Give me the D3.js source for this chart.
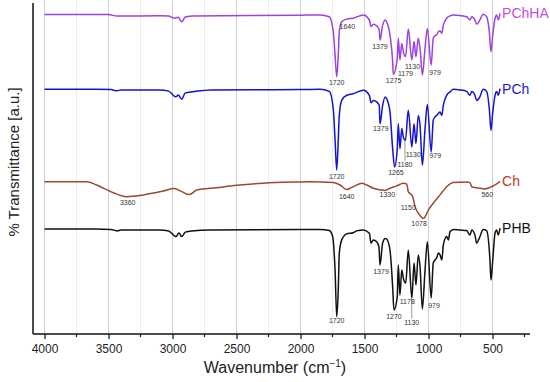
<!DOCTYPE html>
<html>
<head>
<meta charset="utf-8">
<script src="https://cdn.jsdelivr.net/npm/d3@7"></script>
<style>
  body { margin: 0; background: #fff; }
  svg { display: block; font-family: "Liberation Sans", Arial, sans-serif; }
</style>
</head>
<body>
<script>
const width = 550, height = 382;

// x axis ticks (cm-1)
const majorTicks = [4000, 3500, 3000, 2500, 2000, 1500, 1000, 500];
const minorTicks = [3750, 3250, 2750, 2250, 1750, 1250, 750, 250];

// spectra: [wavenumber, stacked transmittance a.u.]
const pchha = [[4000,106.8],[3500,106.8],[3434,106.3],[3100,106.4],[3030,106.3],[2988,105.6],[2955,105.9],[2928,104.4],[2900,106.0],[2838,106.3],[2000,106.6],[1846,106.7],[1775,106.1],[1744,101.1],[1730,93.3],[1717,86.1],[1705,93.3],[1697,101.1],[1678,104.4],[1639,105.3],[1588,105.6],[1509,106.7],[1462,105.0],[1449,102.8],[1431,103.6],[1405,103.1],[1385,101.7],[1379,98.3],[1358,103.3],[1338,105.0],[1327,104.4],[1301,100.0],[1280,91.1],[1275,86.9],[1244,92.2],[1236,98.9],[1223,91.7],[1209,97.2],[1197,94.4],[1179,92.8],[1158,102.0],[1130,91.7],[1113,97.8],[1098,92.8],[1080,98.9],[1066,95.6],[1048,86.7],[1027,95.6],[1009,102.2],[979,90.0],[963,98.9],[949,99.8],[936,100.0],[923,101.1],[910,101.3],[896,100.6],[884,103.3],[858,105.6],[832,106.4],[806,106.7],[754,106.5],[702,106.1],[676,105.0],[662,106.1],[637,105.0],[624,103.6],[603,104.7],[572,106.9],[546,106.1],[525,101.1],[512,94.4],[498,100.0],[480,105.6],[467,106.7],[455,105.0],[441,107.2]];

const pch = [[4000,81.9],[3600,81.9],[3480,81.8],[3436,81.4],[3400,81.7],[3100,81.7],[3030,81.3],[2975,79.4],[2955,80.0],[2928,78.6],[2900,80.7],[2838,81.1],[2700,81.7],[2000,81.8],[1846,81.9],[1775,81.2],[1744,75.4],[1730,65.0],[1717,55.0],[1705,65.0],[1697,73.2],[1678,78.2],[1639,79.9],[1588,80.4],[1509,81.6],[1462,79.9],[1449,77.4],[1431,78.2],[1405,77.7],[1385,76.6],[1379,70.4],[1358,76.6],[1338,79.3],[1327,78.8],[1301,74.3],[1280,62.1],[1265,56.0],[1244,62.1],[1236,70.4],[1223,62.1],[1209,68.8],[1197,66.0],[1180,64.9],[1158,74.9],[1130,62.7],[1113,70.4],[1098,63.8],[1080,73.2],[1066,69.9],[1048,56.6],[1027,68.8],[1009,76.8],[979,61.0],[963,71.6],[949,72.7],[936,73.2],[923,73.8],[910,74.3],[896,73.2],[884,76.6],[858,79.9],[832,81.0],[806,81.9],[754,81.7],[702,81.2],[676,79.9],[662,81.2],[637,79.9],[624,78.2],[603,79.0],[572,81.9],[546,81.2],[525,75.4],[512,68.2],[498,74.3],[480,79.9],[467,81.2],[455,79.9],[441,82.1]];

const ch = [[4000,51.1],[3670,51.1],[3592,50.0],[3462,47.4],[3358,46.1],[3228,46.7],[3072,48.0],[2988,48.8],[2928,47.8],[2869,46.8],[2811,48.3],[2655,49.1],[2498,49.9],[2291,50.6],[2030,51.0],[1926,51.1],[1744,50.8],[1691,50.0],[1640,48.5],[1613,48.9],[1574,49.7],[1522,50.6],[1483,50.0],[1431,48.9],[1340,48.2],[1301,48.9],[1248,49.7],[1197,50.6],[1170,50.3],[1158,47.8],[1145,47.2],[1123,46.1],[1105,42.8],[1080,40.6],[1055,39.3],[1040,38.8],[1000,41.7],[963,43.9],[910,46.7],[858,49.4],[806,50.8],[702,51.0],[676,50.8],[662,49.4],[597,48.9],[559,48.7],[520,49.2],[467,50.4],[441,51.2]];

const phb = [[4000,35.3],[3600,35.3],[3480,35.2],[3434,34.7],[3400,35.0],[3100,35.0],[3030,34.7],[2973,32.8],[2950,34.0],[2928,32.8],[2900,34.3],[2850,34.7],[2700,35.0],[2000,35.2],[1846,35.2],[1775,34.8],[1750,33.0],[1730,21.7],[1717,6.1],[1705,15.0],[1697,27.3],[1678,31.7],[1639,33.7],[1588,34.1],[1561,34.7],[1509,35.0],[1462,33.9],[1449,30.6],[1431,31.7],[1405,31.1],[1387,29.3],[1379,23.3],[1358,30.7],[1338,32.2],[1327,32.0],[1301,28.3],[1280,16.0],[1270,8.3],[1244,12.7],[1236,23.3],[1223,13.3],[1209,21.7],[1197,19.0],[1178,17.3],[1158,28.3],[1130,12.3],[1113,24.0],[1098,16.7],[1080,26.7],[1066,22.7],[1048,8.7],[1027,21.7],[1009,31.1],[979,12.3],[963,24.0],[949,25.0],[936,25.7],[923,27.3],[910,26.7],[896,25.0],[884,30.0],[858,32.8],[845,31.7],[832,34.4],[806,35.2],[754,35.0],[702,34.8],[676,33.3],[662,35.0],[637,33.3],[624,30.6],[603,32.3],[572,35.2],[546,34.8],[520,25.0],[512,18.3],[498,25.0],[480,34.0],[467,35.0],[455,33.3],[441,35.6]];

// peak annotations: [text, wavenumber, a.u. of label, optional a.u. of leader end]
const pchhaPeaks = [["1720",1717,84.2],["1640",1634,102.8],["1379",1379,96.2],["1275",1273,84.7],["1179",1180,87.3],["1130",1125,89.6],["979",949,87.4]];
const pchPeaks = [["1720",1717,52.8],["1379",1373,68.8],["1265",1254,54.0],["1180",1184,56.8,64.9],["1130",1119,60.2],["979",947,59.8]];
const chPeaks = [["3360",3350,44.1],["1640",1639,46.1],["1330",1322,46.7],["1150",1158,42.6],["1078",1074,37.2],["560",541,46.7]];
const phbPeaks = [["1720",1717,4.7],["1379",1371,21.3],["1270",1270,6.1],["1178",1166,11.3],["1130",1131,4.2,12.3],["979",957,9.9]];

const series = [
  { name: "PChHA", data: pchha, peaks: pchhaPeaks, line: "#9c42e0", label: "#c252d6" },
  { name: "PCh", data: pch, peaks: pchPeaks, line: "#1414c8", label: "#1a1ad0" },
  { name: "Ch", data: ch, peaks: chPeaks, line: "#9b4a2c", label: "#c0392b" },
  { name: "PHB", data: phb, peaks: phbPeaks, line: "#111111", label: "#111111" }
];

const svg = d3.select("body").append("svg").attr("width", width).attr("height", height);
const x = d3.scaleLinear().domain([4090, 207]).range([33, 530]);
const y = d3.scaleLinear().domain([0, 110]).range([335, 5]);
const axisY = 334;

// grid lines
svg.selectAll("line.minor")
  .data(minorTicks.filter(d => d > 400))
  .enter().append("line")
  .attr("class", "minor")
  .attr("x1", d => x(d)).attr("x2", d => x(d))
  .attr("y1", 0).attr("y2", axisY)
  .attr("stroke", "#ececec").attr("stroke-width", 1);

svg.selectAll("line.major")
  .data(majorTicks)
  .enter().append("line")
  .attr("class", "major")
  .attr("x1", d => x(d)).attr("x2", d => x(d))
  .attr("y1", 0).attr("y2", axisY)
  .attr("stroke", "#cfcfcf").attr("stroke-width", 1);

// axes
const xAxis = svg.append("g").attr("transform", `translate(0,${axisY})`);
xAxis.call(d3.axisBottom(x).tickValues(majorTicks).tickSize(5).tickFormat(d3.format("d")));
xAxis.select(".domain").attr("stroke", "#111").attr("stroke-width", 1.5).attr("d", `M33,0H530`);
xAxis.selectAll(".tick line").attr("stroke", "#111").attr("stroke-width", 1.2);
xAxis.selectAll(".tick text").attr("font-size", 12).attr("fill", "#222").attr("dy", "0.95em")
  .attr("font-family", "Liberation Sans, Arial, sans-serif");

xAxis.selectAll("line.mtick")
  .data(minorTicks)
  .enter().append("line")
  .attr("class", "mtick")
  .attr("x1", d => x(d)).attr("x2", d => x(d))
  .attr("y1", 0).attr("y2", 3)
  .attr("stroke", "#111").attr("stroke-width", 1.2);

svg.append("line")
  .attr("x1", 33).attr("x2", 33).attr("y1", 3).attr("y2", axisY)
  .attr("stroke", "#111").attr("stroke-width", 1.5);

// axis titles
const xt = svg.append("text")
  .attr("x", 275).attr("y", 373)
  .attr("text-anchor", "middle").attr("font-size", 16).attr("fill", "#222");
xt.append("tspan").text("Wavenumber (cm");
xt.append("tspan").attr("font-size", 10).attr("dy", -6).text("\u22121");
xt.append("tspan").attr("dy", 6).text(")");

svg.append("text")
  .attr("transform", "translate(19,162) rotate(-90)")
  .attr("text-anchor", "middle").attr("font-size", 15).attr("fill", "#222")
  .text("% Transmittance [a.u.]");

// spectra
const line = d3.line()
  .x(d => x(d[0]))
  .y(d => y(d[1]))
  .curve(d3.curveMonotoneX);

series.forEach(s => {
  svg.append("path")
    .datum(s.data)
    .attr("d", line)
    .attr("fill", "none")
    .attr("stroke", s.line)
    .attr("stroke-width", 1.5)
    .attr("stroke-linejoin", "round");

  const last = s.data[s.data.length - 1];
  svg.append("text")
    .attr("x", x(last[0]) + 2)
    .attr("y", y(last[1]))
    .attr("dy", "0.36em")
    .attr("font-size", 14)
    .attr("fill", s.label)
    .text(s.name);

  const g = svg.append("g");
  g.selectAll("line")
    .data(s.peaks.filter(p => p.length > 3))
    .enter().append("line")
    .attr("x1", p => x(p[1])).attr("x2", p => x(p[1]))
    .attr("y1", p => y(p[2]) - 4).attr("y2", p => y(p[3]))
    .attr("stroke", "#555").attr("stroke-width", 0.6);
  g.selectAll("text")
    .data(s.peaks)
    .enter().append("text")
    .attr("x", p => x(p[1]))
    .attr("y", p => y(p[2]))
    .attr("dy", "0.35em")
    .attr("text-anchor", "middle")
    .attr("font-size", 7)
    .attr("fill", "#333")
    .text(p => p[0]);
});
</script>
</body>
</html>
